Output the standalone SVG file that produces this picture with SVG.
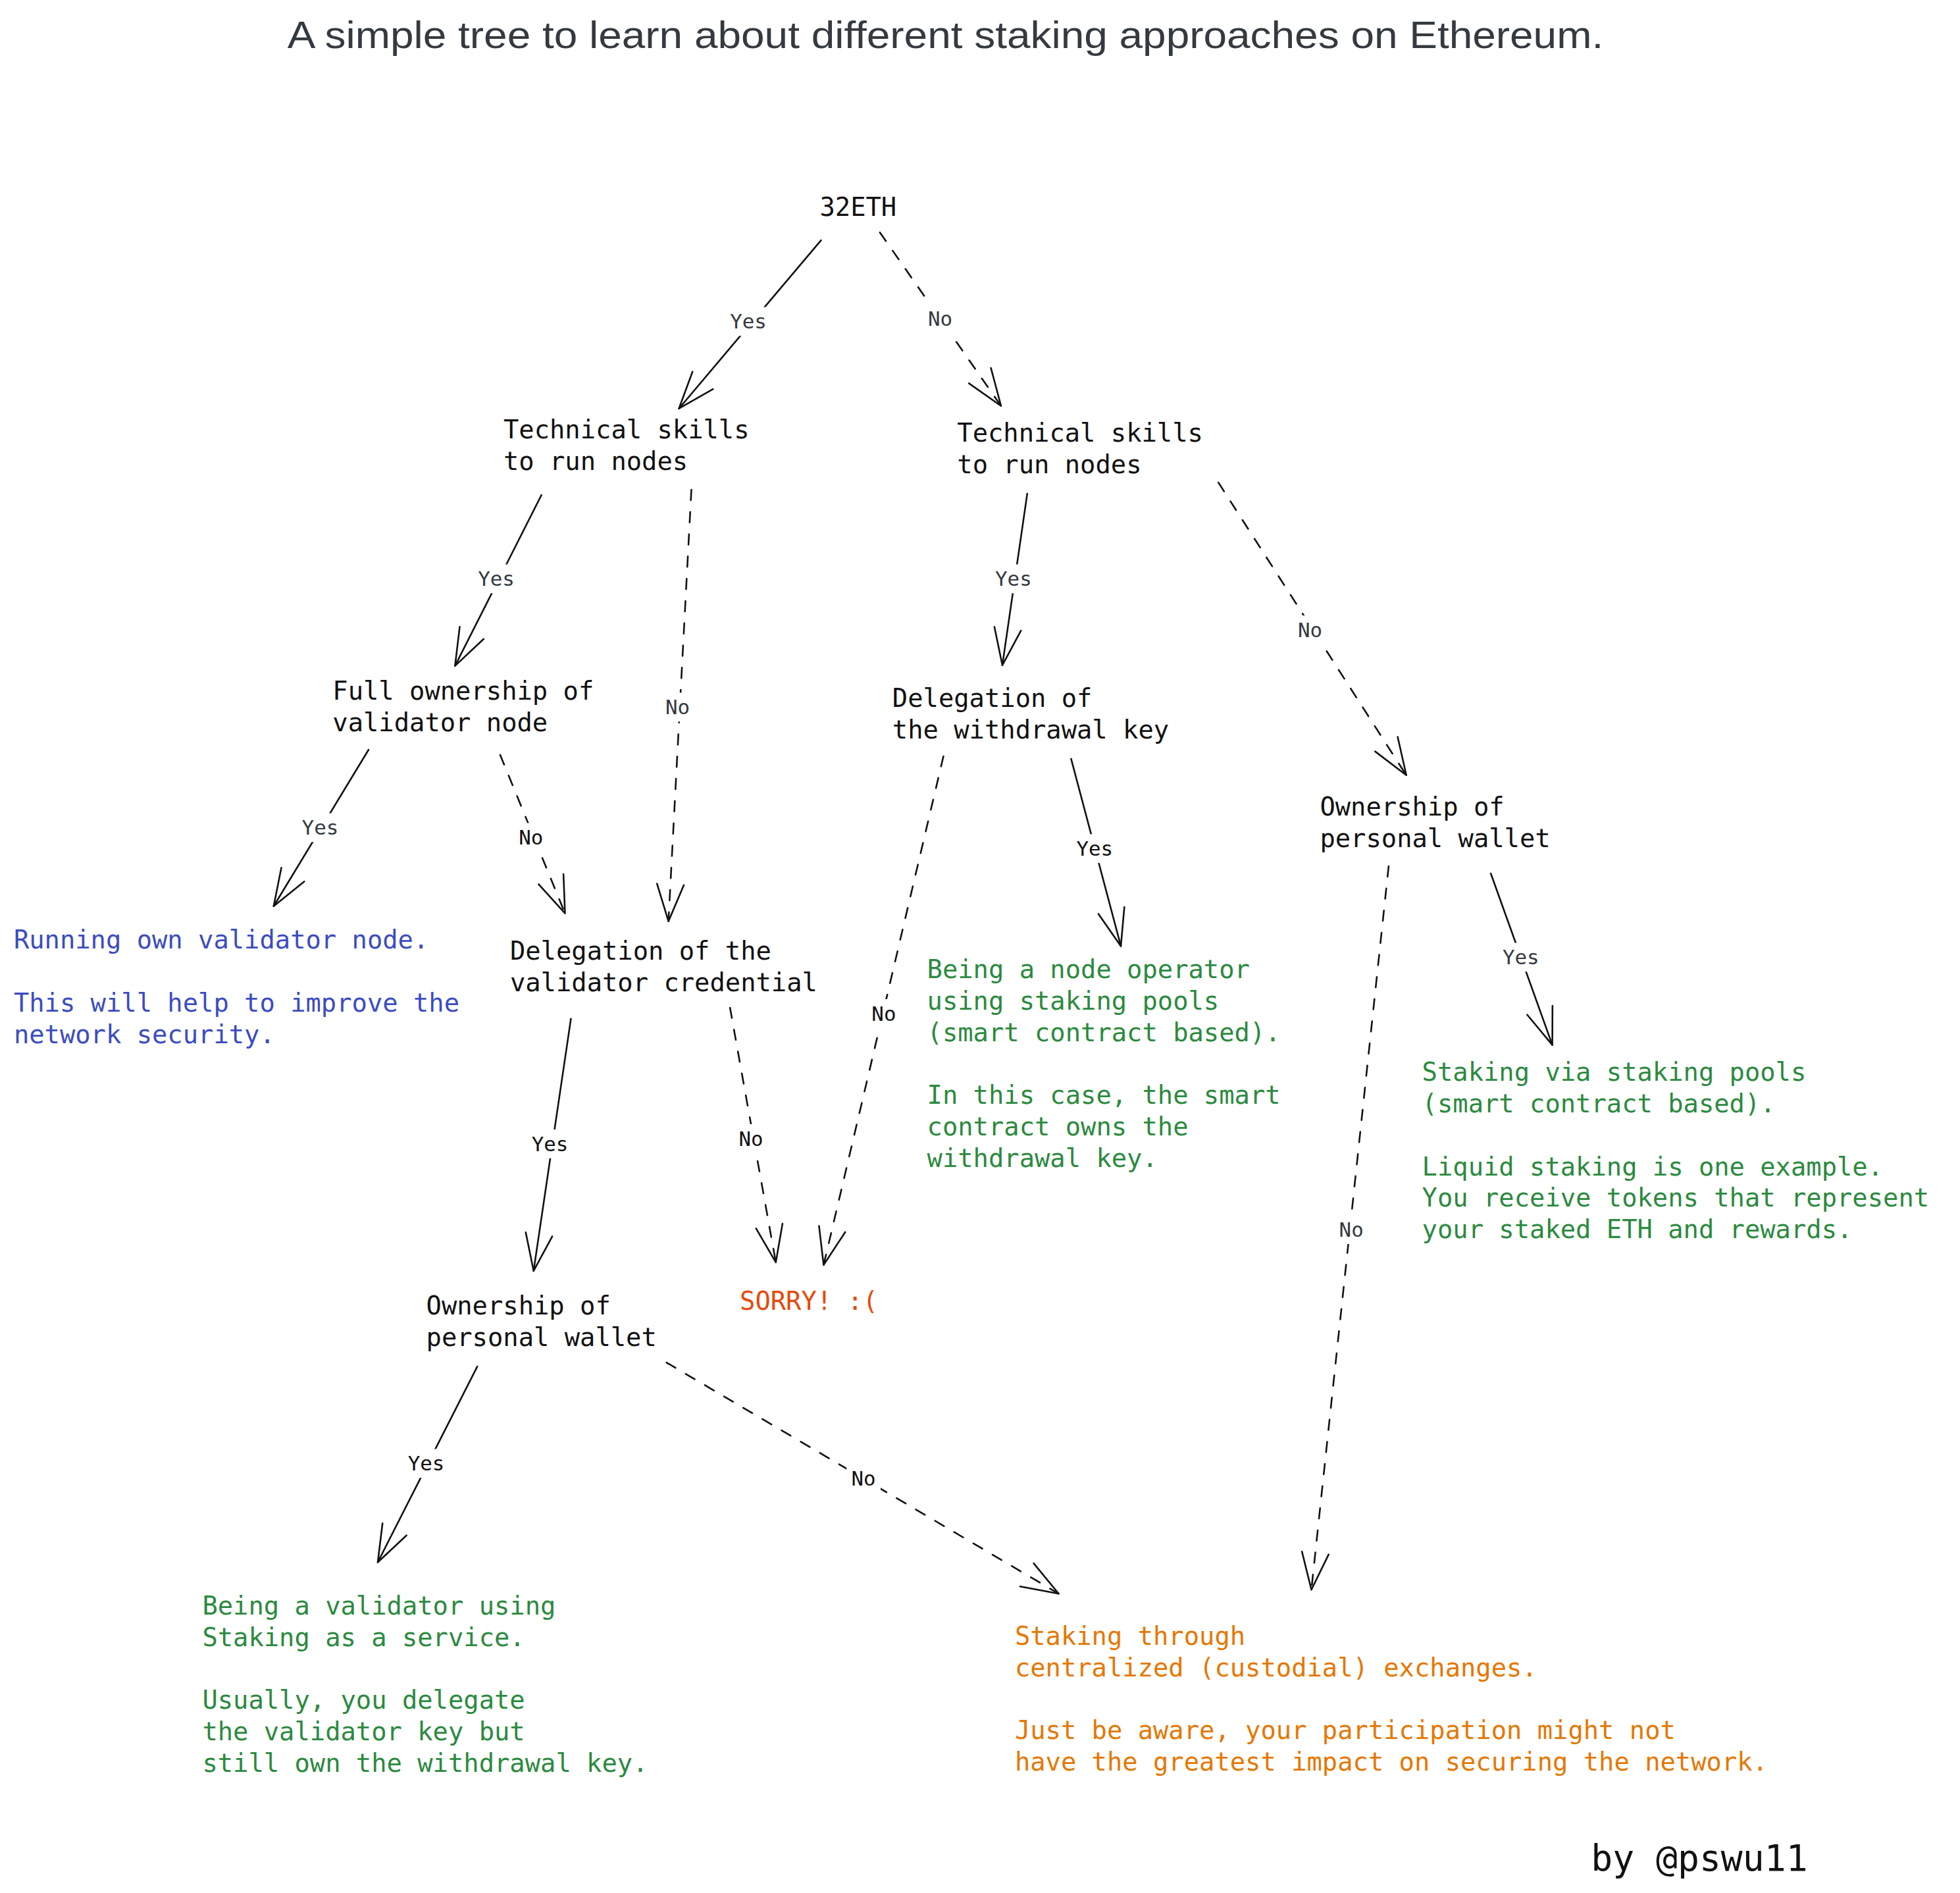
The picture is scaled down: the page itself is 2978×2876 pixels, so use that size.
<svg xmlns="http://www.w3.org/2000/svg" width="2978" height="2876" viewBox="0 0 2978 2876">
<defs>
<style>
.t{font-family:"DejaVu Sans Mono","Liberation Mono",monospace;font-size:39px;fill:#111}
.blue{fill:#3b4cc0}
.green{fill:#2b8a3e}
.orange{fill:#e67700}
.red{fill:#e8490c}
.lbl{font-family:"DejaVu Sans Mono","Liberation Mono",monospace;font-size:31px;text-anchor:middle}
.g{fill:#343a40}
.k{fill:#111}
.c{fill:none;stroke:#111;stroke-width:2.6;stroke-linecap:round}
.d{stroke-dasharray:16 18}
.bg{fill:#fff}
.title{font-family:"Liberation Sans",Arial,sans-serif;font-size:58px;fill:#343a40}
</style>
<marker id="ah" markerUnits="userSpaceOnUse" viewBox="-62 -25 66 50" markerWidth="66" markerHeight="50" refX="0" refY="0" orient="auto">
<path d="M-56.4,-20.5 L0,0 L-56.4,20.5" fill="none" stroke="#111" stroke-width="2.6" stroke-linecap="round" stroke-linejoin="round"/>
</marker>
</defs>
<rect width="2978" height="2876" fill="#fff"/>
<g id="diagram" transform="scale(0.99476)">
<g id="title"><text class="title" x="439" y="73" textLength="2010" lengthAdjust="spacingAndGlyphs">A simple tree to learn about different staking approaches on Ethereum.</text></g>

<g id="connectors">
<line class="c" x1="1254" y1="367" x2="1037" y2="624" marker-end="url(#ah)"/>
<line class="c d" x1="1344" y1="355" x2="1529" y2="620" marker-end="url(#ah)"/>
<line class="c" x1="827" y1="756" x2="695" y2="1017" marker-end="url(#ah)"/>
<line class="c d" x1="1056" y1="748" x2="1021" y2="1407" marker-end="url(#ah)"/>
<line class="c" x1="1569" y1="754" x2="1531" y2="1016" marker-end="url(#ah)"/>
<line class="c d" x1="1861" y1="737" x2="2148" y2="1184" marker-end="url(#ah)"/>
<line class="c" x1="563" y1="1145" x2="418" y2="1384" marker-end="url(#ah)"/>
<line class="c d" x1="764" y1="1153" x2="863" y2="1395" marker-end="url(#ah)"/>
<line class="c d" x1="1441" y1="1155" x2="1258" y2="1932" marker-end="url(#ah)"/>
<line class="c" x1="1636" y1="1159" x2="1712" y2="1445" marker-end="url(#ah)"/>
<line class="c" x1="2277" y1="1334" x2="2371" y2="1596" marker-end="url(#ah)"/>
<line class="c d" x1="2121" y1="1323" x2="2003" y2="2428" marker-end="url(#ah)"/>
<line class="c" x1="872" y1="1556" x2="815" y2="1941" marker-end="url(#ah)"/>
<line class="c d" x1="1115" y1="1539" x2="1185" y2="1928" marker-end="url(#ah)"/>
<line class="c" x1="729" y1="2087" x2="577" y2="2386" marker-end="url(#ah)"/>
<line class="c d" x1="1018" y1="2081" x2="1617" y2="2434" marker-end="url(#ah)"/>

<rect class="bg" x="1107" y="469" width="72" height="44"/><text class="lbl g" x="1143" y="502">Yes</text>
<rect class="bg" x="1410" y="465" width="52" height="44"/><text class="lbl g" x="1436" y="498">No</text>
<rect class="bg" x="722" y="862" width="72" height="44"/><text class="lbl g" x="758" y="895">Yes</text>
<rect class="bg" x="1009" y="1058" width="52" height="44"/><text class="lbl g" x="1035" y="1091">No</text>
<rect class="bg" x="1512" y="862" width="72" height="44"/><text class="lbl g" x="1548" y="895">Yes</text>
<rect class="bg" x="1975" y="940" width="52" height="44"/><text class="lbl g" x="2001" y="973">No</text>
<rect class="bg" x="453" y="1242" width="72" height="44"/><text class="lbl g" x="489" y="1275">Yes</text>
<rect class="bg" x="785" y="1257" width="52" height="44"/><text class="lbl k" x="811" y="1290">No</text>
<rect class="bg" x="1324" y="1526" width="52" height="44"/><text class="lbl k" x="1350" y="1559">No</text>
<rect class="bg" x="1636" y="1274" width="72" height="44"/><text class="lbl k" x="1672" y="1307">Yes</text>
<rect class="bg" x="2287" y="1440" width="72" height="44"/><text class="lbl g" x="2323" y="1473">Yes</text>
<rect class="bg" x="2038" y="1856" width="52" height="44"/><text class="lbl g" x="2064" y="1889">No</text>
<rect class="bg" x="804" y="1725" width="72" height="44"/><text class="lbl k" x="840" y="1758">Yes</text>
<rect class="bg" x="1121" y="1717" width="52" height="44"/><text class="lbl k" x="1147" y="1750">No</text>
<rect class="bg" x="615" y="2213" width="72" height="44"/><text class="lbl k" x="651" y="2246">Yes</text>
<rect class="bg" x="1293" y="2236" width="52" height="44"/><text class="lbl k" x="1319" y="2269">No</text>
</g>

<g id="n-32eth"><text class="t" x="1252" y="330">32ETH</text></g>
<g id="n-tech-yes"><text class="t" x="769" y="670"><tspan x="769">Technical skills</tspan><tspan x="769" dy="48">to run nodes</tspan></text></g>
<g id="n-tech-no"><text class="t" x="1462" y="675"><tspan x="1462">Technical skills</tspan><tspan x="1462" dy="48">to run nodes</tspan></text></g>
<g id="n-full-ownership"><text class="t" x="508" y="1069"><tspan x="508">Full ownership of</tspan><tspan x="508" dy="48">validator node</tspan></text></g>
<g id="n-deleg-withdrawal"><text class="t" x="1363" y="1080"><tspan x="1363">Delegation of</tspan><tspan x="1363" dy="48">the withdrawal key</tspan></text></g>
<g id="n-wallet-right"><text class="t" x="2016" y="1246"><tspan x="2016">Ownership of</tspan><tspan x="2016" dy="48">personal wallet</tspan></text></g>
<g id="n-running-own"><text class="t blue" x="21" y="1449"><tspan x="21">Running own validator node.</tspan><tspan x="21" dy="96">This will help to improve the</tspan><tspan x="21" dy="48">network security.</tspan></text></g>
<g id="n-deleg-credential"><text class="t" x="779" y="1466"><tspan x="779">Delegation of the</tspan><tspan x="779" dy="48">validator credential</tspan></text></g>
<g id="n-node-operator"><text class="t green" x="1416" y="1494"><tspan x="1416">Being a node operator</tspan><tspan x="1416" dy="48">using staking pools</tspan><tspan x="1416" dy="48">(smart contract based).</tspan><tspan x="1416" dy="96">In this case, the smart</tspan><tspan x="1416" dy="48">contract owns the</tspan><tspan x="1416" dy="48">withdrawal key.</tspan></text></g>
<g id="n-staking-pools"><text class="t green" x="2172" y="1651"><tspan x="2172">Staking via staking pools</tspan><tspan x="2172" dy="48">(smart contract based).</tspan><tspan x="2172" dy="96">Liquid staking is one example.</tspan><tspan x="2172" dy="48">You receive tokens that represent</tspan><tspan x="2172" dy="48">your staked ETH and rewards.</tspan></text></g>
<g id="n-wallet-left"><text class="t" x="651" y="2008"><tspan x="651">Ownership of</tspan><tspan x="651" dy="48">personal wallet</tspan></text></g>
<g id="n-sorry"><text class="t red" x="1130" y="2000">SORRY! :(</text></g>
<g id="n-saas"><text class="t green" x="309" y="2466"><tspan x="309">Being a validator using</tspan><tspan x="309" dy="48">Staking as a service.</tspan><tspan x="309" dy="96">Usually, you delegate</tspan><tspan x="309" dy="48">the validator key but</tspan><tspan x="309" dy="48">still own the withdrawal key.</tspan></text></g>
<g id="n-cex"><text class="t orange" x="1550" y="2512"><tspan x="1550">Staking through</tspan><tspan x="1550" dy="48">centralized (custodial) exchanges.</tspan><tspan x="1550" dy="96">Just be aware, your participation might not</tspan><tspan x="1550" dy="48">have the greatest impact on securing the network.</tspan></text></g>
<g id="n-author"><text class="t" x="2430" y="2857" style="font-size:55px">by @pswu11</text></g>
</g>
</svg>
